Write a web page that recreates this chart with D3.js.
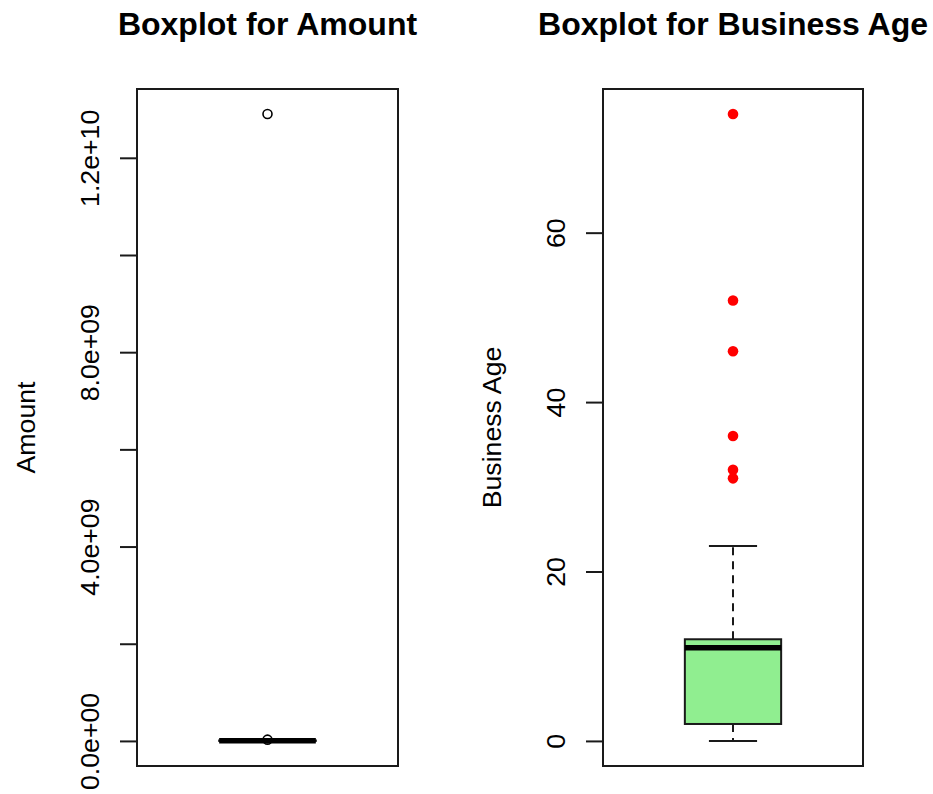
<!DOCTYPE html>
<html>
<head>
<meta charset="utf-8">
<script src="https://cdn.jsdelivr.net/npm/d3@7"></script>
<style>
  body { margin: 0; background: #fff; }
  svg { display: block; }
  text { font-family: "Liberation Sans", Arial, Helvetica, sans-serif; fill: #000; }
</style>
</head>
<body>
<svg id="chart" width="933" height="794"></svg>
<script>
// Amount: [lower whisker, Q1, median, Q3, upper whisker] and outliers
const amountBox = [0, 1e6, 3e6, 9e6, 2.1e7];
const amountOutliers = [2.6e7, 1.29e10];
const amountTicks = [0, 2e9, 4e9, 6e9, 8e9, 1e10, 1.2e10];
const amountTickLabels = ["0.0e+00", "", "4.0e+09", "", "8.0e+09", "", "1.2e+10"];

// Business Age: [lower whisker, Q1, median, Q3, upper whisker] and outliers
const ageBox = [0, 2, 11, 12, 23];
const ageOutliers = [31, 32, 36, 46, 52, 74];
const ageTicks = [0, 20, 40, 60];
const ageTickLabels = ["0", "20", "40", "60"];

const titles = ["Boxplot for Amount", "Boxplot for Business Age"];
const yLabels = ["Amount", "Business Age"];

const svg = d3.select("#chart");
const plotTop = 89, plotBottom = 766;
const axisFont = 26.7, titleFont = 32;
const ink = "#1a1a1a";

function drawPanel(cfg) {
  const g = svg.append("g");
  const { x0, x1, box, outliers, ticks, tickLabels, title, ylab, fill, outlierStyle } = cfg;

  // R-style range: data range extended by 4% at each end
  const lo = Math.min(box[0], d3.min(outliers));
  const hi = Math.max(box[4], d3.max(outliers));
  const pad = (hi - lo) * 0.04;
  const y = d3.scaleLinear().domain([lo - pad, hi + pad]).range([plotBottom, plotTop]);
  const x = d3.scaleLinear().domain([0.46, 1.54]).range([x0, x1]);

  // Whiskers (dashed)
  g.selectAll("line.whisker")
    .data([[box[3], box[4]], [box[1], box[0]]])
    .join("line")
    .attr("x1", x(1)).attr("x2", x(1))
    .attr("y1", d => y(d[0])).attr("y2", d => y(d[1]))
    .attr("stroke", ink).attr("stroke-width", 2)
    .attr("stroke-dasharray", "8,6");

  // Staples
  g.selectAll("line.staple")
    .data([box[0], box[4]])
    .join("line")
    .attr("x1", x(0.9)).attr("x2", x(1.1))
    .attr("y1", d => y(d)).attr("y2", d => y(d))
    .attr("stroke", ink).attr("stroke-width", 2);

  // Box
  g.append("rect")
    .attr("x", x(0.8)).attr("width", x(1.2) - x(0.8))
    .attr("y", y(box[3])).attr("height", y(box[1]) - y(box[3]))
    .attr("fill", fill).attr("stroke", ink).attr("stroke-width", 2);

  // Median
  g.append("line")
    .attr("x1", x(0.8)).attr("x2", x(1.2))
    .attr("y1", y(box[2])).attr("y2", y(box[2]))
    .attr("stroke", "#000").attr("stroke-width", 5.5);

  // Outliers
  g.selectAll("circle.out")
    .data(outliers)
    .join("circle")
    .attr("cx", x(1)).attr("cy", d => y(d))
    .attr("r", outlierStyle.r)
    .attr("fill", outlierStyle.fill)
    .attr("stroke", outlierStyle.stroke)
    .attr("stroke-width", outlierStyle.strokeWidth);

  // Frame
  g.append("rect")
    .attr("x", x0).attr("y", plotTop)
    .attr("width", x1 - x0).attr("height", plotBottom - plotTop)
    .attr("fill", "none").attr("stroke", ink).attr("stroke-width", 2);

  // Y axis
  const axis = d3.axisLeft(y)
    .tickValues(ticks)
    .tickSize(17)
    .tickSizeOuter(0)
    .tickFormat((d, i) => tickLabels[i]);
  const ag = g.append("g").attr("transform", `translate(${x0},0)`).call(axis);
  ag.select(".domain")
    .attr("d", `M0,${y(ticks[0])}V${y(ticks[ticks.length - 1])}`)
    .attr("stroke", ink).attr("stroke-width", 2);
  ag.selectAll(".tick line").attr("stroke", ink).attr("stroke-width", 2);
  ag.selectAll(".tick text")
    .attr("x", 0).attr("y", -38).attr("dy", 0)
    .attr("transform", "rotate(-90)")
    .attr("text-anchor", "middle")
    .style("font-size", axisFont + "px")
    .style("font-family", '"Liberation Sans", Arial, sans-serif')
    .attr("fill", "#000");

  // Y axis title
  g.append("text")
    .attr("transform", `translate(${x0 - 102},${(plotTop + plotBottom) / 2}) rotate(-90)`)
    .attr("text-anchor", "middle")
    .style("font-size", axisFont + "px")
    .text(ylab);

  // Panel title
  g.append("text")
    .attr("x", (x0 + x1) / 2).attr("y", 35)
    .attr("text-anchor", "middle")
    .style("font-size", titleFont + "px")
    .style("font-weight", "bold")
    .text(title);
}

drawPanel({
  x0: 137, x1: 398,
  box: amountBox, outliers: amountOutliers,
  ticks: amountTicks, tickLabels: amountTickLabels,
  title: titles[0], ylab: yLabels[0],
  fill: "#ffffff",
  outlierStyle: { r: 4.5, fill: "none", stroke: "#000", strokeWidth: 1.6 }
});

drawPanel({
  x0: 603, x1: 863,
  box: ageBox, outliers: ageOutliers,
  ticks: ageTicks, tickLabels: ageTickLabels,
  title: titles[1], ylab: yLabels[1],
  fill: "#90EE90",
  outlierStyle: { r: 5.3, fill: "#ff0000", stroke: "none", strokeWidth: 0 }
});
</script>
</body>
</html>
